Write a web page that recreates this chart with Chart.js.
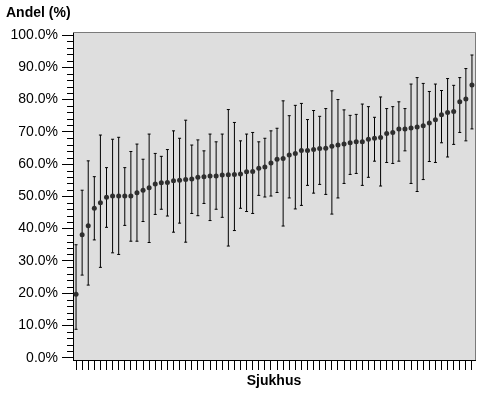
<!DOCTYPE html>
<html>
<head>
<meta charset="utf-8">
<script src="https://cdn.jsdelivr.net/npm/chart.js@4/dist/chart.umd.min.js"></script>
<style>
  body { margin: 0; background: #fff; }
</style>
</head>
<body>
<canvas id="sjukhusChart" width="491" height="397"></canvas>
<script>
// andel per sjukhus, sorted, with confidence interval
var andel = [19.7, 38.1, 40.9, 46.3, 48.0, 49.7, 50.1, 50.1, 50.1, 50.1,
    51.1, 51.9, 52.7, 53.8, 54.2, 54.3, 54.8, 55.0, 55.2, 55.4,
    55.9, 56.1, 56.3, 56.3, 56.6, 56.7, 56.8, 56.9, 57.6, 57.7,
    58.7, 59.1, 60.3, 61.5, 61.7, 62.8, 63.3, 64.2, 64.2, 64.5,
    64.8, 64.9, 65.5, 65.9, 66.2, 66.6, 66.9, 66.9, 67.7, 68.0,
    68.2, 69.5, 69.8, 70.9, 70.9, 71.2, 71.5, 71.9, 72.7, 73.7,
    75.3, 76.0, 76.3, 79.3, 80.2, 84.5];
var upper = [35.0, 51.9, 61.0, 56.1, 69.0, 58.9, 67.7, 68.3, 58.9, 63.9,
    66.2, 61.5, 69.3, 63.3, 62.4, 64.5, 70.3, 68.0, 73.6, 65.9,
    67.5, 64.1, 69.3, 66.9, 69.3, 76.9, 72.9, 67.2, 69.3, 69.8,
    66.9, 68.0, 70.3, 71.1, 79.6, 75.0, 78.2, 78.8, 73.8, 76.6,
    74.8, 77.2, 82.7, 80.0, 76.8, 75.1, 75.4, 78.6, 77.8, 74.5,
    80.8, 77.2, 77.8, 79.3, 77.2, 84.8, 86.8, 85.0, 82.5, 84.8,
    82.8, 86.5, 84.4, 86.8, 89.6, 93.8];
var lower = [8.8, 25.6, 22.5, 36.5, 28.0, 40.4, 32.5, 32.0, 41.0, 36.1,
    36.1, 42.2, 35.7, 44.4, 46.0, 43.9, 38.9, 41.7, 35.8, 44.7,
    44.0, 47.8, 42.5, 46.0, 43.5, 34.6, 39.4, 46.3, 45.3, 44.7,
    50.3, 49.8, 50.1, 51.2, 40.8, 49.5, 46.1, 47.2, 53.4, 51.0,
    53.7, 50.6, 44.5, 49.5, 54.0, 56.8, 57.1, 53.4, 55.9, 60.9,
    53.2, 60.5, 60.2, 60.9, 64.1, 54.0, 51.5, 55.2, 60.8, 60.5,
    66.6, 62.2, 66.1, 69.8, 67.2, 70.9];
var sjukhus = andel.map(function (v, i) { return 'Sjukhus ' + (i + 1); });
var yTicks = [0, 10, 20, 30, 40, 50, 60, 70, 80, 90, 100];

var intervals = lower.map(function (lo, i) { return [lo, upper[i]]; });

var plotFrame = {
    id: 'plotFrame',
    beforeDraw: function (chart) {
        var a = chart.chartArea;
        var ctx = chart.ctx;
        ctx.save();
        ctx.fillStyle = '#dedede';
        ctx.fillRect(a.left, a.top, a.right - a.left, a.bottom - a.top);
        ctx.restore();
    },
    afterDraw: function (chart) {
        var a = chart.chartArea;
        var ctx = chart.ctx;
        var y = chart.scales.y;
        ctx.save();
        ctx.strokeStyle = '#7a7a7a';
        ctx.lineWidth = 1;
        ctx.beginPath();
        ctx.moveTo(Math.round(a.left), Math.round(a.top) + 0.5);
        ctx.lineTo(Math.round(a.right) + 0.5, Math.round(a.top) + 0.5);
        ctx.lineTo(Math.round(a.right) + 0.5, Math.round(a.bottom));
        ctx.stroke();
        // minor ticks every 2 %
        ctx.strokeStyle = '#000';
        ctx.beginPath();
        for (var v = 2; v < 100; v += 2) {
            if (v % 10 === 0) continue;
            var py = Math.round(y.getPixelForValue(v)) + 0.5;
            ctx.moveTo(a.left - 6, py);
            ctx.lineTo(a.left, py);
        }
        ctx.stroke();
        ctx.restore();
    }
};

new Chart(document.getElementById('sjukhusChart'), {
    type: 'line',
    data: {
        labels: sjukhus,
        datasets: [
            {
                type: 'bar',
                data: intervals,
                backgroundColor: '#000',
                borderWidth: 0,
                barThickness: 1,
                inflateAmount: 0,
                order: 3
            },
            {
                data: upper,
                showLine: false,
                pointStyle: 'line',
                pointRadius: 1.5,
                pointBorderWidth: 1,
                pointBorderColor: '#000',
                order: 2
            },
            {
                data: lower,
                showLine: false,
                pointStyle: 'line',
                pointRadius: 1.5,
                pointBorderWidth: 1,
                pointBorderColor: '#000',
                order: 2
            },
            {
                data: andel,
                showLine: false,
                pointRadius: 2.5,
                pointBorderWidth: 0,
                pointBackgroundColor: '#2e2e2e',
                order: 1
            }
        ]
    },
    plugins: [plotFrame],
    options: {
        responsive: false,
        animation: false,
        layout: {
            padding: { left: 6, right: 16, top: 0, bottom: 0 }
        },
        plugins: {
            legend: { display: false },
            tooltip: { enabled: false },
            title: {
                display: true,
                text: 'Andel (%)',
                align: 'start',
                color: '#000',
                font: { family: 'Liberation Sans, Arial, sans-serif', size: 14, weight: 'bold' },
                padding: { top: 5, bottom: 10.2 }
            }
        },
        scales: {
            x: {
                type: 'category',
                offset: true,
                grid: {
                    offset: false,
                    drawOnChartArea: false,
                    color: '#000',
                    tickLength: 10
                },
                border: { color: '#000' },
                ticks: { display: false, autoSkip: false },
                title: {
                    display: true,
                    text: 'Sjukhus',
                    color: '#000',
                    font: { family: 'Liberation Sans, Arial, sans-serif', size: 14, weight: 'bold' },
                    padding: { top: 0, bottom: 7 }
                },
                afterFit: function (scale) { scale.height = 37; }
            },
            y: {
                min: -0.71,
                max: 100.93,
                grid: {
                    drawOnChartArea: false,
                    color: '#000',
                    tickLength: 11
                },
                border: { color: '#000' },
                ticks: {
                    color: '#000',
                    padding: 4,
                    font: { family: 'Liberation Sans, Arial, sans-serif', size: 14 },
                    callback: function (v) { return v.toFixed(1) + '%'; }
                },
                afterBuildTicks: function (scale) {
                    scale.ticks = yTicks.map(function (v) { return { value: v }; });
                },
                afterFit: function (scale) { scale.width = 67; }
            }
        }
    }
});
</script>
</body>
</html>
